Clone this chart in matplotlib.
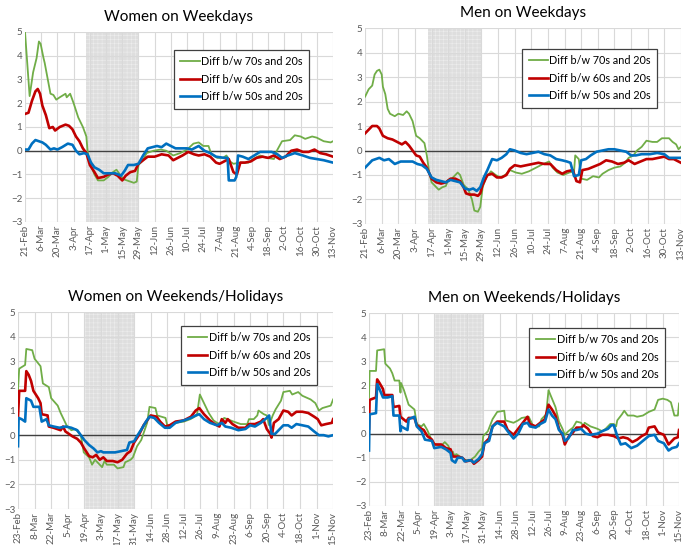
import numpy as np
import pandas as pd
import matplotlib
matplotlib.use('Agg')
import matplotlib.pyplot as plt

plt.rcParams['font.family'] = ['Lato', 'DejaVu Sans']
plt.rcParams['hatch.linewidth'] = 0.4

# ---- data: x = days after the panel's first date, y = difference ----
wd_start = '2020-02-21'   # weekday panels
we_start = '2020-02-23'   # weekend / holiday panels
wd_shade = ('2020-04-14', '2020-05-29')
we_shade = ('2020-04-19', '2020-05-31')
series_names = ['Diff b/w 70s and 20s', 'Diff b/w 60s and 20s', 'Diff b/w 50s and 20s']

# Women on weekdays
w_wd_70_x = [0, 4, 7, 10, 12, 13.5, 16, 17, 22, 24.5, 27, 30, 35, 36, 39, 42, 46, 50, 53, 54, 56, 60, 63, 68, 72, 76, 79, 82, 85, 88, 91, 94, 96.5, 98, 102, 105, 111, 117, 122, 128, 134, 140, 145.5, 150, 154, 158.5, 161, 166, 171, 174, 177, 180, 186, 193, 197, 203, 209, 215, 217.5, 222, 229, 233, 238, 242, 248, 252, 258, 264, 266]
w_wd_70_y = [5.0, 2.3, 3.3, 3.9, 4.6, 4.5, 3.9, 3.7, 2.4, 2.35, 2.15, 2.25, 2.4, 2.25, 2.4, 2.0, 1.4, 1.0, 0.6, 0.0, -0.5, -1.0, -1.25, -1.25, -1.1, -0.9, -0.8, -1.0, -1.2, -1.25, -1.3, -1.35, -1.3, -0.6, -0.4, -0.1, 0.0, 0.05, 0.0, -0.2, -0.1, 0.05, 0.3, 0.35, 0.2, 0.2, -0.15, -0.3, -0.3, -0.2, -0.45, -0.55, -0.5, -0.5, -0.35, -0.2, -0.3, -0.35, 0.0, 0.4, 0.45, 0.65, 0.6, 0.5, 0.6, 0.55, 0.4, 0.35, 0.4]
w_wd_60_x = [0, 3, 6, 9, 11, 13, 15, 18, 21, 24, 26, 30, 35, 38, 41, 44, 47, 50, 53, 56, 60, 63, 68, 72, 76, 80, 84, 87, 91, 95, 98, 102, 106, 112, 118, 124, 128, 132, 136, 141, 146, 150, 155, 160, 165, 168, 172, 176, 180, 183, 186, 190, 195, 200, 205, 210, 215, 220, 225, 230, 235, 240, 245, 250, 255, 260, 266]
w_wd_60_y = [1.55, 1.6, 2.1, 2.5, 2.6, 2.4, 1.9, 1.5, 0.95, 1.0, 0.85, 1.0, 1.1, 1.05, 0.9, 0.6, 0.4, 0.1, -0.1, -0.6, -0.9, -1.15, -1.1, -1.0, -0.95, -1.05, -1.25, -1.05, -0.9, -0.85, -0.55, -0.4, -0.25, -0.25, -0.15, -0.2, -0.4, -0.3, -0.2, -0.05, -0.15, -0.2, -0.15, -0.25, -0.5, -0.55, -0.45, -0.35, -0.9, -1.0, -0.5, -0.5, -0.45, -0.3, -0.25, -0.3, -0.2, -0.35, -0.25, 0.0, 0.05, -0.05, -0.05, 0.05, -0.1, -0.15, -0.25]
w_wd_50_x = [0, 3, 6, 9, 12, 15, 18, 22, 25, 28, 32, 37, 41, 44, 47, 51, 54, 57, 60, 64, 68, 73, 78, 83, 86, 89, 94, 98, 102, 106, 110, 114, 118, 122, 126, 130, 136, 140, 144, 150, 155, 160, 165, 172, 175, 176, 181, 182.5, 184, 188, 193, 198, 203, 208, 213, 218, 222, 227, 233, 240, 246, 252, 258, 266]
w_wd_50_y = [0.05, 0.05, 0.3, 0.45, 0.4, 0.35, 0.25, 0.05, 0.1, 0.05, 0.15, 0.3, 0.25, 0.0, -0.15, -0.1, -0.15, -0.5, -0.7, -0.8, -0.95, -0.95, -0.95, -1.05, -0.85, -0.6, -0.6, -0.55, -0.2, 0.1, 0.15, 0.2, 0.15, 0.3, 0.2, 0.1, 0.1, 0.1, 0.05, 0.2, 0.0, -0.1, -0.25, -0.3, -0.3, -1.25, -1.25, -1.1, -0.2, -0.25, -0.35, -0.2, -0.05, -0.05, -0.05, -0.15, -0.3, -0.2, -0.1, -0.2, -0.3, -0.35, -0.4, -0.5]

# Men on weekdays
m_wd_70_x = [0, 3, 6, 8, 10, 12, 14, 15, 17, 19, 21, 25, 28, 32, 35, 37, 40, 43, 46, 50, 52, 54, 56, 59, 62, 65, 68, 70, 73, 76, 78, 80, 83, 87, 90, 92, 95, 97, 99, 102, 106, 110, 114, 118, 122, 127, 132, 138, 144, 150, 155, 158, 162, 167, 172, 176, 177, 180, 182, 187, 192, 197, 200, 205, 210, 215, 219, 222, 226, 229, 233, 237, 242, 246, 250, 256, 259, 262, 264, 266]
m_wd_70_y = [2.2, 2.5, 2.65, 3.1, 3.25, 3.3, 3.1, 2.6, 2.3, 1.7, 1.5, 1.4, 1.5, 1.45, 1.6, 1.5, 1.2, 0.6, 0.5, 0.3, -0.2, -0.9, -1.3, -1.45, -1.6, -1.5, -1.45, -1.2, -1.15, -1.0, -0.9, -1.0, -1.4, -1.6, -2.0, -2.45, -2.5, -2.3, -1.5, -1.1, -0.85, -1.0, -1.1, -1.0, -0.8, -0.9, -0.95, -0.85, -0.7, -0.55, -0.45, -0.7, -0.9, -1.0, -0.9, -0.85, -0.2, -0.35, -1.15, -1.2, -1.05, -1.1, -0.95, -0.8, -0.7, -0.65, -0.5, -0.3, -0.2, 0.0, 0.15, 0.4, 0.35, 0.35, 0.5, 0.5, 0.35, 0.25, 0.05, 0.15]
m_wd_60_x = [0, 3, 6, 10, 12, 15, 19, 23, 27, 31, 34, 37, 40, 43, 46, 49, 52, 56, 60, 64, 68, 72, 76, 80, 83, 85, 88, 92, 95, 97, 99, 103, 107, 111, 115, 119, 122, 126, 131, 136, 141, 146, 151, 156, 161, 166, 170, 175, 178, 181, 183, 188, 193, 198, 203, 208, 213, 218, 222, 227, 232, 237, 242, 247, 252, 256, 260, 264, 266]
m_wd_60_y = [0.7, 0.85, 1.0, 1.0, 0.9, 0.6, 0.5, 0.45, 0.35, 0.25, 0.35, 0.2, 0.0, -0.2, -0.25, -0.5, -0.7, -1.15, -1.3, -1.35, -1.3, -1.15, -1.15, -1.25, -1.5, -1.75, -1.8, -1.8, -1.85, -1.75, -1.4, -1.0, -0.95, -1.1, -1.1, -1.0, -0.75, -0.6, -0.65, -0.6, -0.55, -0.5, -0.55, -0.55, -0.8, -0.95, -0.85, -0.8, -1.25, -1.3, -0.8, -0.75, -0.65, -0.55, -0.4, -0.45, -0.55, -0.5, -0.4, -0.55, -0.45, -0.35, -0.35, -0.3, -0.25, -0.35, -0.35, -0.45, -0.5]
m_wd_50_x = [0, 3, 6, 9, 12, 16, 20, 25, 30, 35, 40, 44, 48, 52, 56, 60, 64, 68, 72, 76, 80, 84, 88, 91, 94, 97, 100, 103, 107, 111, 115, 119, 122, 126, 131, 136, 141, 146, 151, 156, 161, 166, 170, 173, 176, 180, 182, 186, 190, 195, 200, 205, 210, 215, 220, 224, 228, 233, 240, 246, 252, 256, 262, 266]
m_wd_50_y = [-0.7, -0.55, -0.4, -0.35, -0.3, -0.4, -0.35, -0.55, -0.45, -0.45, -0.45, -0.55, -0.6, -0.75, -1.1, -1.2, -1.25, -1.3, -1.2, -1.25, -1.3, -1.55, -1.6, -1.55, -1.65, -1.5, -1.1, -0.8, -0.35, -0.4, -0.3, -0.15, 0.05, 0.0, -0.1, -0.15, -0.1, -0.05, -0.15, -0.2, -0.35, -0.4, -0.45, -0.5, -1.05, -1.0, -0.4, -0.35, -0.2, -0.05, 0.0, 0.05, 0.05, 0.0, -0.05, -0.2, -0.2, -0.15, -0.15, -0.1, -0.15, -0.3, -0.3, -0.3]

# Women on weekends / holidays
w_we_70_x = [0, 1, 6, 7, 12, 14, 19, 21, 26, 28, 33.5, 36, 41, 45, 48.5, 53, 55.5, 60, 62.5, 65, 68, 71, 73, 75, 81, 84, 89, 90.5, 95, 97, 100.5, 104, 109, 111, 116, 117.5, 124.5, 126, 130, 133, 140, 145.5, 151, 153.5, 157, 161, 165, 168, 171, 174, 182, 188, 193.5, 195, 199, 202, 203, 207.5, 210, 212, 215, 217.5, 222, 224, 229.5, 231.5, 236.5, 240, 247, 251, 254, 257, 264, 266]
w_we_70_y = [1.85, 2.7, 2.85, 3.5, 3.45, 3.1, 2.8, 2.1, 1.95, 1.5, 1.2, 0.9, 0.4, 0.2, 0.25, 0.0, -0.7, -0.9, -1.2, -1.0, -1.15, -1.3, -1.05, -1.2, -1.2, -1.35, -1.3, -1.1, -1.0, -0.9, -0.45, -0.2, 0.5, 1.15, 1.1, 0.8, 0.7, 0.4, 0.4, 0.5, 0.55, 0.65, 0.8, 1.65, 1.3, 0.9, 0.6, 0.5, 0.45, 0.7, 0.55, 0.45, 0.45, 0.65, 0.65, 0.8, 1.0, 0.85, 0.8, 0.4, 0.8, 1.05, 1.4, 1.75, 1.8, 1.65, 1.75, 1.6, 1.45, 1.3, 1.0, 1.1, 1.2, 1.45]
w_we_60_x = [0, 1, 6, 7, 9, 11, 13, 17, 19, 20, 25, 26, 30, 33, 36, 38, 40, 43, 46, 50, 53, 56, 60, 63, 66, 69, 72, 75, 80, 84, 88, 92, 95, 98, 102, 106, 109, 112, 117, 120, 124, 128, 133, 140, 146, 150, 153, 157, 162, 166, 170, 172, 175, 177, 181, 186, 192, 195, 200, 205, 207, 210, 213, 214, 216, 220, 224, 228, 231, 235, 240, 245, 250, 253, 256, 260, 265, 266]
w_we_60_y = [0.75, 1.8, 1.8, 2.6, 2.45, 2.2, 1.8, 1.5, 1.3, 0.85, 0.8, 0.35, 0.3, 0.25, 0.2, 0.35, 0.15, 0.05, -0.05, -0.15, -0.3, -0.55, -0.85, -0.9, -0.8, -1.0, -0.9, -1.05, -1.05, -1.1, -1.0, -0.75, -0.65, -0.3, 0.0, 0.4, 0.6, 0.8, 0.75, 0.55, 0.35, 0.4, 0.55, 0.6, 0.75, 1.0, 1.1, 0.85, 0.6, 0.45, 0.35, 0.65, 0.5, 0.65, 0.45, 0.3, 0.3, 0.45, 0.45, 0.55, 0.65, 0.25, 0.05, -0.1, 0.5, 0.65, 1.0, 0.95, 0.8, 0.95, 0.95, 0.9, 0.75, 0.65, 0.4, 0.45, 0.5, 0.65]
w_we_50_x = [0, 0.5, 3, 6, 7, 11, 13, 18, 20, 24, 26, 30, 35, 40, 45, 50, 53, 56, 60, 64, 67, 70, 72, 77, 82, 87, 92, 94, 98, 101, 105, 108, 111, 115, 119, 124, 128, 133, 140, 146, 150, 153, 157, 162, 168, 172, 175, 180, 186, 192, 196, 200, 205, 210, 212, 214, 217, 220, 224, 228, 231, 235, 240, 245, 250, 254, 258, 262, 266]
w_we_50_y = [-0.45, 0.7, 0.65, 0.55, 1.5, 1.4, 1.15, 1.15, 0.55, 0.65, 0.4, 0.35, 0.3, 0.35, 0.3, 0.2, 0.0, -0.2, -0.4, -0.55, -0.7, -0.65, -0.7, -0.7, -0.7, -0.65, -0.6, -0.3, -0.25, 0.0, 0.3, 0.55, 0.75, 0.7, 0.5, 0.3, 0.3, 0.5, 0.6, 0.7, 0.8, 0.85, 0.65, 0.5, 0.4, 0.5, 0.35, 0.3, 0.2, 0.25, 0.4, 0.35, 0.5, 0.7, 0.8, 0.05, 0.05, 0.2, 0.4, 0.4, 0.3, 0.45, 0.4, 0.35, 0.15, 0.0, 0.0, -0.05, 0.0]

# Men on weekends / holidays
m_we_70_x = [0, 0.5, 6, 7, 13, 14, 18, 20, 22, 26, 27, 27.5, 30, 34, 39, 41, 45, 47, 50, 54, 57, 62, 65, 68, 70, 72, 73, 75, 78, 81, 83, 87, 91, 94, 97, 98, 102, 106, 110, 116, 117, 124, 128, 131, 137, 141, 146, 148, 152, 154, 157, 160, 163, 166, 168, 171, 175, 178, 182, 184, 185, 190, 196, 200, 203, 207, 210, 212, 213, 217, 219, 222, 227, 230, 235, 240, 245, 248, 252, 256, 259, 262, 265, 266]
m_we_70_y = [1.5, 2.6, 2.6, 3.45, 3.5, 2.9, 2.7, 2.5, 2.2, 2.2, 1.7, 2.1, 1.8, 1.2, 1.0, 0.4, 0.3, 0.4, 0.15, -0.3, -0.45, -0.5, -0.35, -0.5, -0.75, -0.75, -0.9, -0.85, -0.95, -1.05, -1.1, -1.1, -0.95, -0.75, -0.6, -0.1, 0.1, 0.6, 0.9, 0.95, 0.55, 0.45, 0.55, 0.65, 0.7, 0.3, 0.3, 0.6, 0.8, 1.8, 1.45, 1.1, 0.5, 0.2, -0.05, 0.1, 0.25, 0.5, 0.45, 0.3, 0.45, 0.3, 0.2, 0.1, 0.2, 0.4, 0.4, 0.3, 0.55, 0.8, 0.95, 0.75, 0.75, 0.7, 0.75, 0.9, 1.0, 1.4, 1.45, 1.4, 1.3, 0.75, 0.75, 1.25]
m_we_60_x = [0, 0.5, 6, 7, 9, 12, 13, 20, 21, 26, 27, 32, 34, 39, 41, 45, 47, 50, 54, 56, 62, 66, 70, 72, 76, 80, 83, 88, 90, 94, 97, 99, 103, 106, 110, 116, 119, 124, 128, 132, 136, 138, 143, 147, 151, 154, 157, 160, 163, 166, 168, 171, 175, 178, 182, 184, 188, 192, 196, 200, 205, 210, 214, 218, 222, 226, 230, 234, 238, 240, 245, 248, 253, 257, 260, 262, 265, 266]
m_we_60_y = [0.2, 1.4, 1.5, 2.25, 2.1, 1.85, 1.6, 1.6, 1.1, 1.15, 0.7, 0.5, 0.65, 0.65, 0.35, 0.2, 0.15, -0.1, -0.25, -0.45, -0.45, -0.6, -0.65, -0.95, -0.95, -1.0, -1.15, -1.1, -1.25, -1.1, -0.95, -0.4, -0.2, 0.3, 0.5, 0.5, 0.15, -0.05, 0.2, 0.45, 0.7, 0.4, 0.3, 0.45, 0.6, 1.2, 1.0, 0.75, 0.2, -0.05, -0.45, -0.15, 0.05, 0.25, 0.25, 0.35, 0.2, -0.1, -0.15, -0.05, -0.05, -0.1, -0.2, -0.15, -0.2, -0.35, -0.25, -0.1, 0.0, 0.25, 0.3, 0.05, -0.05, -0.45, -0.3, -0.2, -0.15, 0.15]
m_we_50_x = [0, 0.5, 6, 7, 9, 12, 16, 20, 21, 26, 27, 27.5, 33, 34, 39, 41, 45, 48, 54, 56, 62, 66, 70, 71, 74, 76, 80, 82, 87, 90, 94, 97, 99, 103, 106, 110, 116, 119, 124, 128, 132, 136, 138, 143, 147, 151, 154, 157, 160, 163, 166, 168, 171, 175, 178, 182, 186, 190, 196, 200, 205, 208, 210, 213, 216, 220, 225, 230, 235, 240, 245, 248, 253, 257, 260, 264, 266]
m_we_50_y = [-0.7, 0.8, 0.85, 2.05, 1.85, 1.5, 1.5, 1.55, 0.75, 0.75, 0.1, 0.3, 0.15, 0.6, 0.7, 0.3, 0.1, -0.25, -0.3, -0.6, -0.55, -0.65, -0.8, -1.1, -1.2, -1.0, -1.0, -1.15, -1.1, -1.2, -1.05, -0.85, -0.4, -0.3, 0.3, 0.45, 0.3, 0.1, -0.2, 0.0, 0.4, 0.45, 0.3, 0.25, 0.4, 0.5, 1.0, 0.75, 0.6, 0.15, 0.0, -0.3, -0.2, 0.15, 0.15, 0.2, 0.0, -0.05, 0.0, 0.1, 0.2, 0.35, 0.35, -0.1, -0.45, -0.4, -0.6, -0.5, -0.3, -0.1, -0.05, -0.3, -0.4, -0.7, -0.6, -0.55, -0.4]

colors = ['#70ad47', '#c00000', '#0070c0']
widths = [1.3, 1.9, 1.9]


def draw_panel(ax, title, start, xs, ys, shade, legend_anchor):
    t0 = pd.Timestamp(start)
    ticks = pd.date_range(t0, periods=20, freq='14D')
    ax.axvspan(pd.Timestamp(shade[0]), pd.Timestamp(shade[1]), facecolor='#dedede',
               edgecolor='#ededed', hatch='++++', linewidth=0, zorder=0)
    for x, y, c, lw, name in zip(xs, ys, colors, widths, series_names):
        d = t0 + pd.to_timedelta(np.array(x), unit='D')
        ax.plot(d, y, color=c, lw=lw, label=name, zorder=3)
    ax.axhline(0, color='#404040', lw=1, zorder=2)
    ax.set_xlim(ticks[0], ticks[-1])
    ax.set_ylim(-3, 5)
    ax.set_yticks(range(-3, 6))
    ax.set_xticks(ticks)
    ax.set_xticklabels([f'{d.day}-{d:%b}' for d in ticks], rotation=90)
    ax.tick_params(length=0, labelsize=7, labelcolor='#595959', pad=2)
    ax.grid(True, color='#d9d9d9', lw=0.8, zorder=1)
    ax.set_axisbelow(True)
    for s in ax.spines.values():
        s.set_visible(False)
    ax.set_title(title, fontsize=11, pad=8)
    leg = ax.legend(loc='upper right', bbox_to_anchor=legend_anchor, fontsize=7.8,
                    fancybox=False, framealpha=1, edgecolor='#404040',
                    handlelength=1.8, handletextpad=0.1, borderpad=0.6, labelspacing=0.6)
    leg.get_frame().set_linewidth(0.9)


fig = plt.figure(figsize=(6.85, 5.45), dpi=100)
ax1 = fig.add_axes([0.0365, 0.5927, 0.4496, 0.3486])
ax2 = fig.add_axes([0.533, 0.589, 0.461, 0.3596])
ax3 = fig.add_axes([0.0263, 0.066, 0.46, 0.3615])
ax4 = fig.add_axes([0.5387, 0.0716, 0.4526, 0.354])

draw_panel(ax1, 'Women on Weekdays', wd_start,
           [w_wd_70_x, w_wd_60_x, w_wd_50_x], [w_wd_70_y, w_wd_60_y, w_wd_50_y],
           wd_shade, (0.94, 0.935))
draw_panel(ax2, 'Men on Weekdays', wd_start,
           [m_wd_70_x, m_wd_60_x, m_wd_50_x], [m_wd_70_y, m_wd_60_y, m_wd_50_y],
           wd_shade, (0.943, 0.923))
draw_panel(ax3, 'Women on Weekends/Holidays', we_start,
           [w_we_70_x, w_we_60_x, w_we_50_x], [w_we_70_y, w_we_60_y, w_we_50_y],
           we_shade, (0.965, 0.959))
draw_panel(ax4, 'Men on Weekends/Holidays', we_start,
           [m_we_70_x, m_we_60_x, m_we_50_x], [m_we_70_y, m_we_60_y, m_we_50_y],
           we_shade, (0.971, 0.953))

fig.savefig('out.png', dpi=100)
